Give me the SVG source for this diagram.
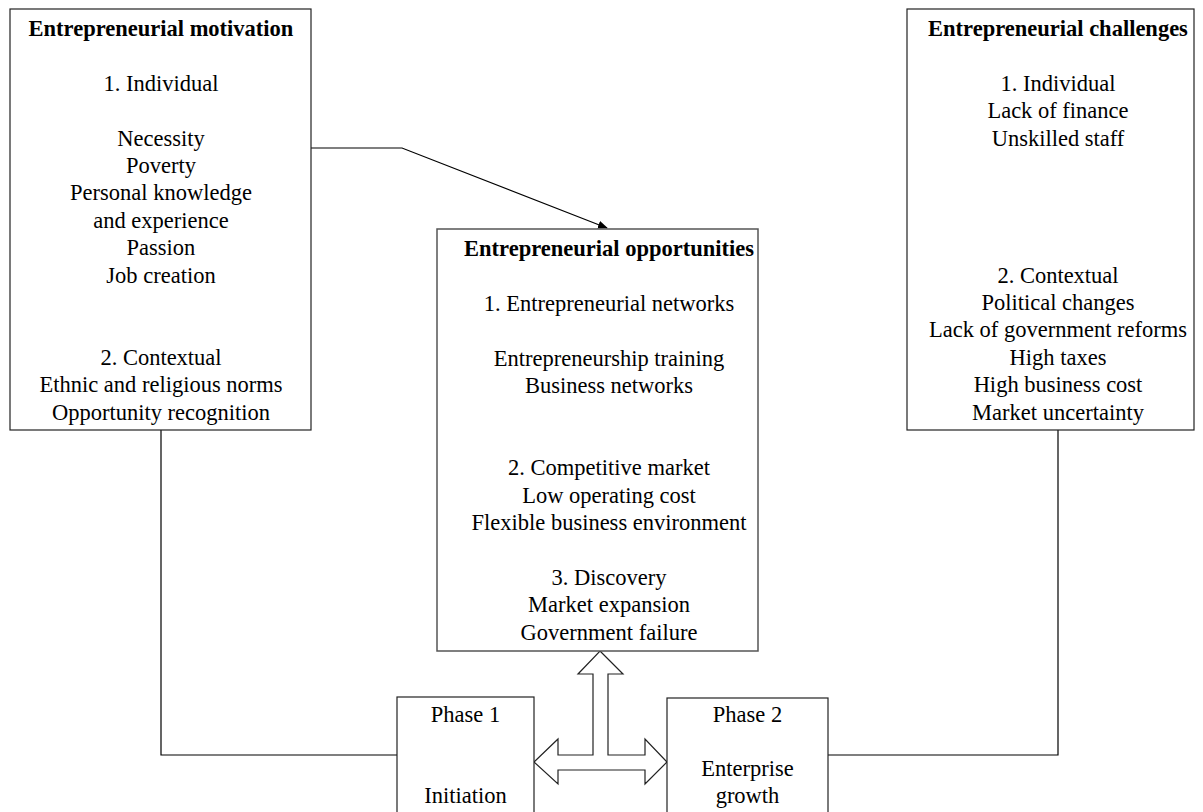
<svg xmlns="http://www.w3.org/2000/svg" width="1203" height="812" viewBox="0 0 1203 812">
<style>
.box{fill:#fff;stroke:#222;stroke-width:1.2}
.t{font-family:"Liberation Serif","Times New Roman",serif;font-size:22.5px;fill:#000;text-anchor:middle}
.b{font-weight:bold}
.ln{fill:none;stroke:#000;stroke-width:1.2}
</style>
<defs>
<marker id="ah" markerWidth="10" markerHeight="8" refX="9" refY="4" orient="auto" markerUnits="userSpaceOnUse">
<path d="M0,0 L10,4 L0,8 Z" fill="#000"/>
</marker>
</defs>
<rect width="1203" height="812" fill="#fff"/>
<g id="connectors">
<polyline class="ln" points="311,148 402,148 607,228" marker-end="url(#ah)"/>
<polyline class="ln" points="161,430 161,755 397,755"/>
<polyline class="ln" points="1058,430 1058,755 828,755"/>
<polygon fill="#fff" stroke="#222" stroke-width="1.2" points="600,651 623,674 608,674 608,755 645,755 645,739 667,762 645,784 645,770 558,770 558,784 534,762 558,739 558,755 593,755 593,674 578,674"/>
</g>
<g id="motivation">
<rect class="box" x="10" y="9" width="301" height="421"/>
<text class="t b" x="161" y="36">Entrepreneurial motivation</text>
<text class="t" x="161" y="90.8">1. Individual</text>
<text class="t" x="161" y="145.6">Necessity</text>
<text class="t" x="161" y="173">Poverty</text>
<text class="t" x="161" y="200.4">Personal knowledge</text>
<text class="t" x="161" y="227.8">and experience</text>
<text class="t" x="161" y="255.2">Passion</text>
<text class="t" x="161" y="282.6">Job creation</text>
<text class="t" x="161" y="364.8">2. Contextual</text>
<text class="t" x="161" y="392.2">Ethnic and religious norms</text>
<text class="t" x="161" y="419.6">Opportunity recognition</text>
</g>
<g id="challenges">
<rect class="box" x="907" y="9" width="287" height="421"/>
<text class="t b" x="1058" y="36">Entrepreneurial challenges</text>
<text class="t" x="1058" y="90.8">1. Individual</text>
<text class="t" x="1058" y="118.2">Lack of finance</text>
<text class="t" x="1058" y="145.6">Unskilled staff</text>
<text class="t" x="1058" y="282.6">2. Contextual</text>
<text class="t" x="1058" y="310">Political changes</text>
<text class="t" x="1058" y="337.4">Lack of government reforms</text>
<text class="t" x="1058" y="364.8">High taxes</text>
<text class="t" x="1058" y="392.2">High business cost</text>
<text class="t" x="1058" y="419.6">Market uncertainty</text>
</g>
<g id="opportunities">
<rect x="437" y="229" width="321" height="422" fill="#fff" stroke="#555" stroke-width="1.5"/>
<text class="t b" x="609" y="256">Entrepreneurial opportunities</text>
<text class="t" x="609" y="310.8">1. Entrepreneurial networks</text>
<text class="t" x="609" y="365.6">Entrepreneurship training</text>
<text class="t" x="609" y="393">Business networks</text>
<text class="t" x="609" y="475.2">2. Competitive market</text>
<text class="t" x="609" y="502.6">Low operating cost</text>
<text class="t" x="609" y="530">Flexible business environment</text>
<text class="t" x="609" y="584.8">3. Discovery</text>
<text class="t" x="609" y="612.2">Market expansion</text>
<text class="t" x="609" y="639.6">Government failure</text>
</g>
<g id="phase1">
<rect class="box" x="397" y="697" width="137" height="140"/>
<text class="t" x="465.5" y="722">Phase 1</text>
<text class="t" x="465.5" y="803">Initiation</text>
</g>
<g id="phase2">
<rect class="box" x="667" y="698" width="161" height="140"/>
<text class="t" x="747.5" y="722">Phase 2</text>
<text class="t" x="747.5" y="776">Enterprise</text>
<text class="t" x="747.5" y="803">growth</text>
</g>
</svg>
